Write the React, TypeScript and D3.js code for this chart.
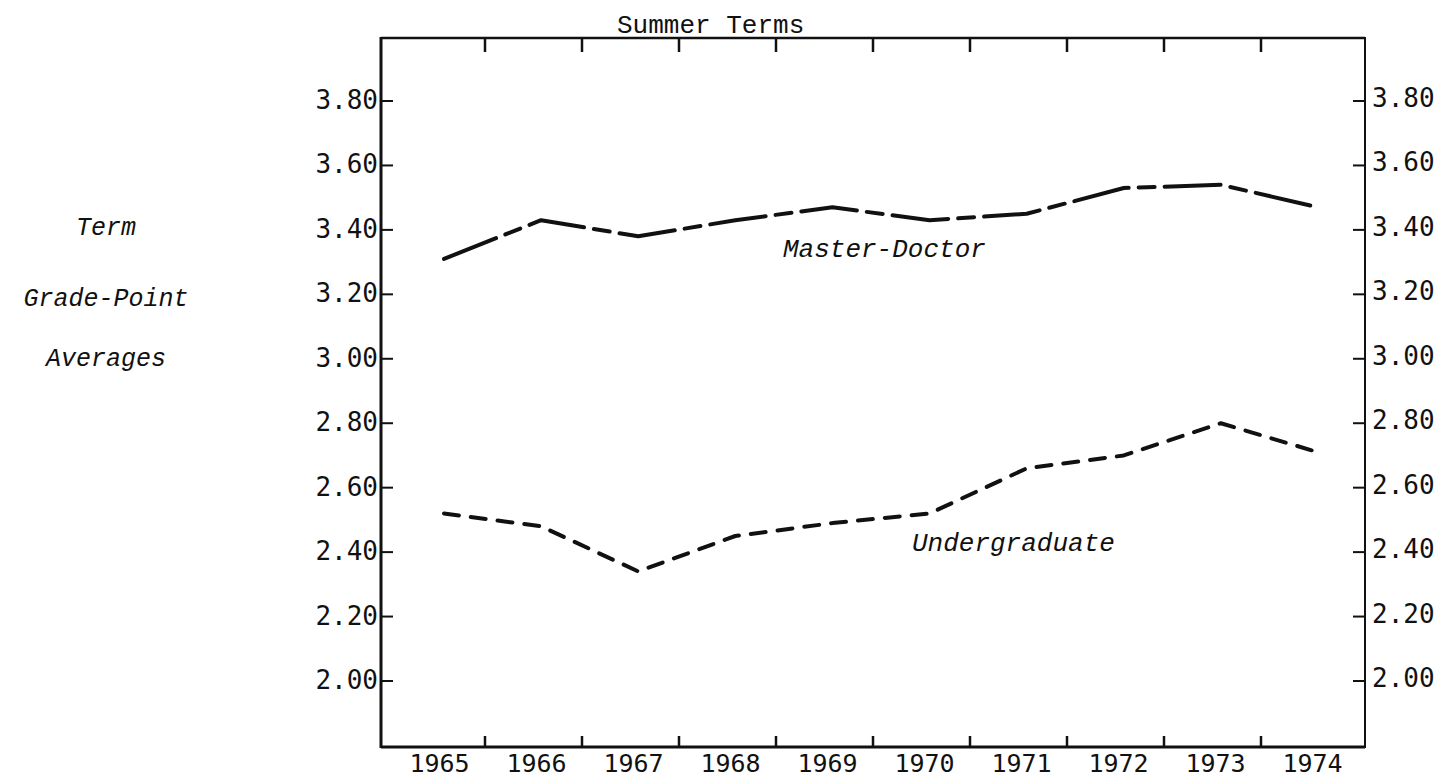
import React, { useEffect, useRef } from "react";
import { select, scaleBand, scalePoint, scaleLinear, line } from "d3";

const years = ["1965", "1966", "1967", "1968", "1969", "1970", "1971", "1972", "1973", "1974"];
const masterDoctor = [3.31, 3.43, 3.38, 3.43, 3.47, 3.43, 3.45, 3.53, 3.54, 3.47];
const undergraduate = [2.52, 2.48, 2.34, 2.45, 2.49, 2.52, 2.66, 2.7, 2.8, 2.71];
const yTicks = [3.8, 3.6, 3.4, 3.2, 3.0, 2.8, 2.6, 2.4, 2.2, 2.0];
const yTitle = ["Term", "Grade-Point", "Averages"];
const title = "Summer Terms";
const seriesLabels = ["Master-Doctor", "Undergraduate"];

const W = 1440;
const H = 781;
const ink = "#111";
const mono = "'DejaVu Sans Mono', monospace";
const type = "'Liberation Mono', 'Courier New', monospace";

export default function App() {
  const svgRef = useRef<SVGSVGElement | null>(null);

  useEffect(() => {
    const svg = select(svgRef.current);
    svg.selectAll("*").remove();

    const left = 381;
    const right = 1365;
    const top = 38;
    const bottom = 747;

    // axis labels sit in bands, the plotted points a few px to the right
    const xBand = scaleBand().domain(years).range([388, 1358]);
    const xPoint = scalePoint().domain(years).range([444, 1318]);
    const yScale = scaleLinear().domain([2.0, 3.8]).range([681, 101]);

    // frame
    const frame = svg.append("g").attr("stroke", ink).attr("fill", "none");
    frame.append("line").attr("x1", left).attr("x2", left).attr("y1", top - 1).attr("y2", bottom + 1).attr("stroke-width", 3);
    frame.append("line").attr("x1", left).attr("x2", right).attr("y1", top).attr("y2", top).attr("stroke-width", 2.5);
    frame.append("line").attr("x1", left).attr("x2", right).attr("y1", bottom).attr("y2", bottom).attr("stroke-width", 3);
    frame.append("line").attr("x1", right).attr("x2", right).attr("y1", top - 1).attr("y2", bottom + 1).attr("stroke-width", 2);

    // x ticks between years, top and bottom
    const bounds = years.slice(1).map((y) => xBand(y)!);
    frame
      .selectAll(".tt")
      .data(bounds)
      .join("line")
      .attr("class", "tt")
      .attr("x1", (d) => d)
      .attr("x2", (d) => d)
      .attr("y1", top)
      .attr("y2", top + 14)
      .attr("stroke-width", 2.5);
    frame
      .selectAll(".bt")
      .data(bounds)
      .join("line")
      .attr("class", "bt")
      .attr("x1", (d) => d)
      .attr("x2", (d) => d)
      .attr("y1", bottom)
      .attr("y2", bottom - 11)
      .attr("stroke-width", 2.5);

    // y ticks both sides
    yTicks.forEach((v) => {
      frame.append("line").attr("x1", left).attr("x2", left + 12).attr("y1", yScale(v)).attr("y2", yScale(v)).attr("stroke-width", 2);
      frame.append("line").attr("x1", right - 12).attr("x2", right).attr("y1", yScale(v)).attr("y2", yScale(v)).attr("stroke-width", 2);
    });

    const labels = svg.append("g").attr("fill", ink).attr("font-family", mono).attr("font-size", 26);
    labels
      .selectAll(".yl")
      .data(yTicks)
      .join("text")
      .attr("class", "yl")
      .attr("x", left - 3)
      .attr("y", (d) => yScale(d) + 8)
      .attr("text-anchor", "end")
      .text((d) => d.toFixed(2));
    labels
      .selectAll(".yr")
      .data(yTicks)
      .join("text")
      .attr("class", "yr")
      .attr("x", right + 7)
      .attr("y", (d) => yScale(d) + 6)
      .text((d) => d.toFixed(2));
    labels
      .selectAll(".xl")
      .data(years)
      .join("text")
      .attr("class", "xl")
      .attr("x", (d) => xBand(d)! + xBand.bandwidth() / 2 + 3)
      .attr("y", 772)
      .attr("text-anchor", "middle")
      .attr("font-size", 25)
      .text((d) => d);

    svg
      .append("text")
      .attr("x", 617)
      .attr("y", 33)
      .attr("font-family", type)
      .attr("font-size", 26)
      .attr("fill", ink)
      .text(title);

    const yTitleY = [235, 306, 366];
    svg
      .append("g")
      .selectAll("text")
      .data(yTitle)
      .join("text")
      .attr("x", 106)
      .attr("y", (_, i) => yTitleY[i])
      .attr("text-anchor", "middle")
      .attr("font-family", type)
      .attr("font-style", "italic")
      .attr("font-size", 25)
      .attr("fill", ink)
      .text((d) => d);

    const path = line<number>()
      .x((_, i) => xPoint(years[i])!)
      .y((d) => yScale(d));

    svg
      .append("path")
      .datum(masterDoctor)
      .attr("d", path)
      .attr("fill", "none")
      .attr("stroke", ink)
      .attr("stroke-width", 4)
      .attr("stroke-linecap", "round")
      .attr("stroke-linejoin", "round")
      .attr("stroke-dasharray", "56 10 16 10");

    svg
      .append("path")
      .datum(undergraduate)
      .attr("d", path)
      .attr("fill", "none")
      .attr("stroke", ink)
      .attr("stroke-width", 4)
      .attr("stroke-linecap", "round")
      .attr("stroke-linejoin", "round")
      .attr("stroke-dasharray", "15 12");

    const seriesPos = [
      [783, 257],
      [912, 551],
    ];
    svg
      .append("g")
      .selectAll("text")
      .data(seriesLabels)
      .join("text")
      .attr("x", (_, i) => seriesPos[i][0])
      .attr("y", (_, i) => seriesPos[i][1])
      .attr("font-family", type)
      .attr("font-style", "italic")
      .attr("font-size", 26)
      .attr("fill", ink)
      .text((d) => d);
  }, []);

  return (
    <div style={{ position: "absolute", left: 0, top: 0, background: "#fff" }}>
      <svg ref={svgRef} width={W} height={H} style={{ display: "block" }}></svg>
    </div>
  );
}
